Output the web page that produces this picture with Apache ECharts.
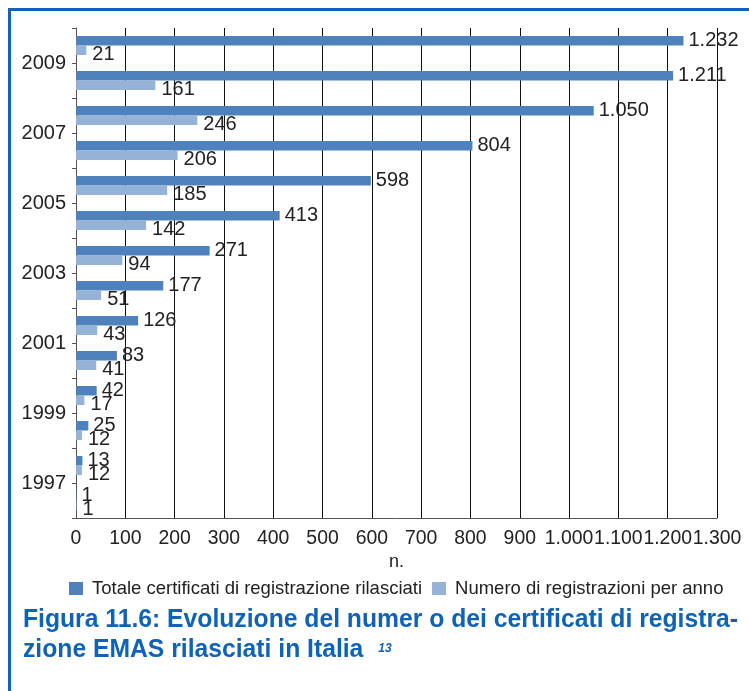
<!DOCTYPE html>
<html>
<head>
<meta charset="utf-8">
<script src="https://cdn.jsdelivr.net/npm/echarts@6/dist/echarts.min.js"></script>
<style>
  html, body { margin: 0; padding: 0; background: #fff; }
  #chart { width: 749px; height: 691px; }
</style>
</head>
<body>
<div id="chart"></div>
<script>
// data (bottom to top)
const years = ['1997', '1998', '1999', '2000', '2001', '2002', '2003',
  '2004', '2005', '2006', '2007', '2008', '2009', '2010']
const totale = [1, 13, 25, 42, 83, 126, 177, 271, 413, 598, 804, 1050, 1211, 1232]
const numero = [1, 12, 12, 17, 41, 43, 51, 94, 142, 185, 206, 246, 161, 21]
const seriesNames = ['Totale certificati di registrazione rilasciati', 'Numero di registrazioni per anno']
const xTicks = [0, 100, 200, 300, 400, 500, 600, 700, 800, 900, 1000, 1100, 1200, 1300]
const titleLines = ['Figura 11.6: Evoluzione del numer o dei certificati di registra-',
  'zione EMAS rilasciati in Italia']
const footnote = '13'

const DARK = '#4f81bd'
const LIGHT = '#95b3d7'
const BLUE = '#1062b5'
const FONT = 'Liberation Sans'
const TITLE_FONT = 'bold 25px "Liberation Sans", sans-serif'

// italian thousands separator
function fmt (v) {
  return String(v).replace(/\B(?=(\d{3})+(?!\d))/g, '.')
}

// the caption uses a condensed face: squeeze a normal bold one to the same width
const ctx = document.createElement('canvas').getContext('2d')
ctx.font = TITLE_FONT
const w1 = ctx.measureText(titleLines[0]).width
const w2 = ctx.measureText(titleLines[1]).width
const squeeze = 715 / w1

const chart = echarts.init(document.getElementById('chart'))

const option = {
  animation: false,
  textStyle: { fontFamily: FONT },
  grid: { left: 76, right: 32, top: 28, bottom: 173 },
  legend: {
    data: seriesNames,
    left: 69,
    top: 579,
    padding: 0,
    icon: 'rect',
    itemWidth: 14,
    itemHeight: 13,
    itemGap: 10,
    textStyle: { fontSize: 18.5, color: '#222', fontFamily: FONT, padding: [0, 0, 0, 4] }
  },
  xAxis: {
    type: 'value',
    min: xTicks[0],
    max: xTicks[xTicks.length - 1],
    interval: 100,
    name: 'n.',
    nameLocation: 'middle',
    nameGap: 33,
    nameTextStyle: { fontSize: 18, color: '#222' },
    axisLine: { show: true, lineStyle: { color: '#555', width: 1 } },
    axisTick: { show: false },
    axisLabel: {
      fontSize: 19.4,
      color: '#222',
      margin: 11,
      showMinLabel: true,
      showMaxLabel: true,
      hideOverlap: false,
      formatter: fmt
    },
    splitLine: { show: true, lineStyle: { color: '#111', width: 1 } }
  },
  yAxis: {
    type: 'category',
    data: years,
    axisLine: { lineStyle: { color: '#555', width: 1 } },
    axisTick: { show: true, interval: 0, length: 4, lineStyle: { color: '#555' } },
    axisLabel: {
      interval: function (i) { return i % 2 === 0 },
      margin: 10,
      color: '#222',
      // labels sit on the upper boundary of their category
      formatter: function (v) { return '{a|' + v + '}' },
      rich: { a: { fontSize: 20, color: '#222', padding: [0, 0, 35, 0] } }
    },
    splitLine: { show: false }
  },
  series: [
    {
      name: seriesNames[0],
      type: 'bar',
      data: totale,
      barWidth: 9.5,
      barGap: '0%',
      itemStyle: { color: DARK },
      label: {
        show: true,
        position: 'right',
        distance: 5,
        fontSize: 20,
        color: '#222',
        formatter: function (p) { return fmt(p.value) }
      }
    },
    {
      name: seriesNames[1],
      type: 'bar',
      data: numero,
      barWidth: 9.5,
      barGap: '0%',
      itemStyle: { color: LIGHT },
      label: {
        show: true,
        position: 'right',
        distance: 6,
        offset: [0, 4],
        fontSize: 20,
        color: '#222',
        formatter: function (p) { return fmt(p.value) }
      }
    }
  ],
  graphic: [
    { type: 'line', shape: { x1: 8, y1: 9.5, x2: 749, y2: 9.5 }, style: { stroke: BLUE, lineWidth: 3 } },
    { type: 'line', shape: { x1: 9.5, y1: 8, x2: 9.5, y2: 691 }, style: { stroke: BLUE, lineWidth: 3 } },
    {
      type: 'text', x: 23, y: 633, scaleX: squeeze,
      style: { text: titleLines[0], font: TITLE_FONT, fill: BLUE, verticalAlign: 'bottom' }
    },
    {
      type: 'text', x: 23, y: 663, scaleX: squeeze,
      style: { text: titleLines[1], font: TITLE_FONT, fill: BLUE, verticalAlign: 'bottom' }
    },
    {
      type: 'text', x: 23 + w2 * squeeze + 15, y: 655,
      style: { text: footnote, font: 'italic bold 12px "Liberation Sans", sans-serif', fill: BLUE, verticalAlign: 'bottom' }
    }
  ]
}

chart.setOption(option)
</script>
</body>
</html>
